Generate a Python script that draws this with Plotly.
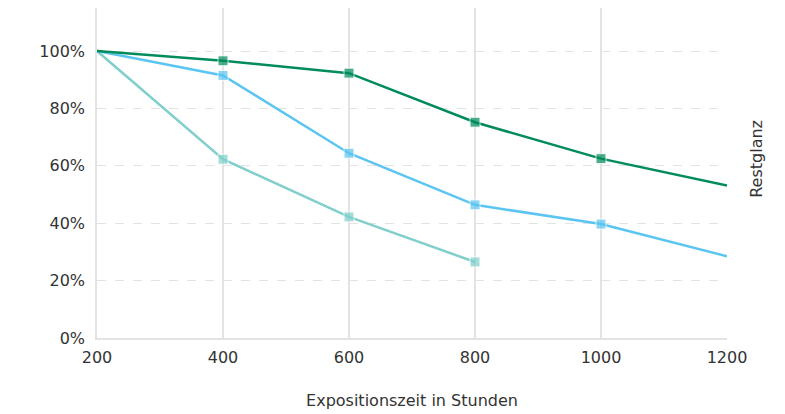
import plotly.graph_objects as go

hours = [200, 400, 600, 800, 1000, 1200]
series_dark_green = [1.00, 0.966, 0.923, 0.752, 0.625, 0.531]
series_light_blue = [1.00, 0.915, 0.644, 0.464, 0.397, 0.285]
hours_teal = [200, 400, 600, 800]
series_teal = [1.00, 0.623, 0.422, 0.265]

y_ticks = [0, 0.2, 0.4, 0.6, 0.8, 1.0]
y_tick_labels = ["0%", "20%", "40%", "60%", "80%", "100%"]
x_ticks = [200, 400, 600, 800, 1000, 1200]

FONT = "DejaVu Sans"
TXT = "#333333"

def msizes(xs):
    return [0 if (x == 200 or x == 1200) else 10 for x in xs]

fig = go.Figure()
for xs, ys, col in [
    (hours_teal, series_teal, "#80CFCC"),
    (hours, series_light_blue, "#5BC5F2"),
    (hours, series_dark_green, "#008C5A"),
]:
    fig.add_trace(go.Scatter(
        x=xs, y=ys, mode="lines+markers",
        line=dict(color=col, width=2.5),
        marker=dict(symbol="square", size=msizes(xs), color=col),
        cliponaxis=False, showlegend=False, hoverinfo="skip",
    ))

fig.update_layout(
    width=777, height=406,
    margin=dict(l=89, r=58, t=0, b=76),
    paper_bgcolor="white", plot_bgcolor="white",
    font=dict(family=FONT, size=16, color=TXT),
    xaxis=dict(
        range=[200, 1200], tickvals=x_ticks, ticktext=[str(v) for v in x_ticks],
        showgrid=True, gridcolor="#e3e3e3", gridwidth=1.5,
        showline=True, linecolor="#e3e3e3", linewidth=1.5,
        zeroline=False, ticks="", ticklabelstandoff=4,
        tickfont=dict(family=FONT, size=16, color=TXT),
        title=dict(text="Expositionszeit in Stunden", standoff=29,
                   font=dict(family=FONT, size=16, color=TXT)),
    ),
    yaxis=dict(
        range=[0, 1.15], tickvals=y_ticks, ticktext=y_tick_labels,
        showgrid=True, gridcolor="#e3e3e3", gridwidth=1, griddash="dash",
        showline=True, linecolor="#e3e3e3", linewidth=1.5,
        zeroline=False, ticks="", ticklabelstandoff=7,
        tickfont=dict(family=FONT, size=16, color=TXT),
    ),
    annotations=[dict(
        text="Restglanz", textangle=-90, xref="paper", yref="paper",
        x=1.0, xshift=30, y=0.543, showarrow=False,
        font=dict(family=FONT, size=16, color=TXT),
        xanchor="center", yanchor="middle",
    )],
)

fig.write_html("out.html")
